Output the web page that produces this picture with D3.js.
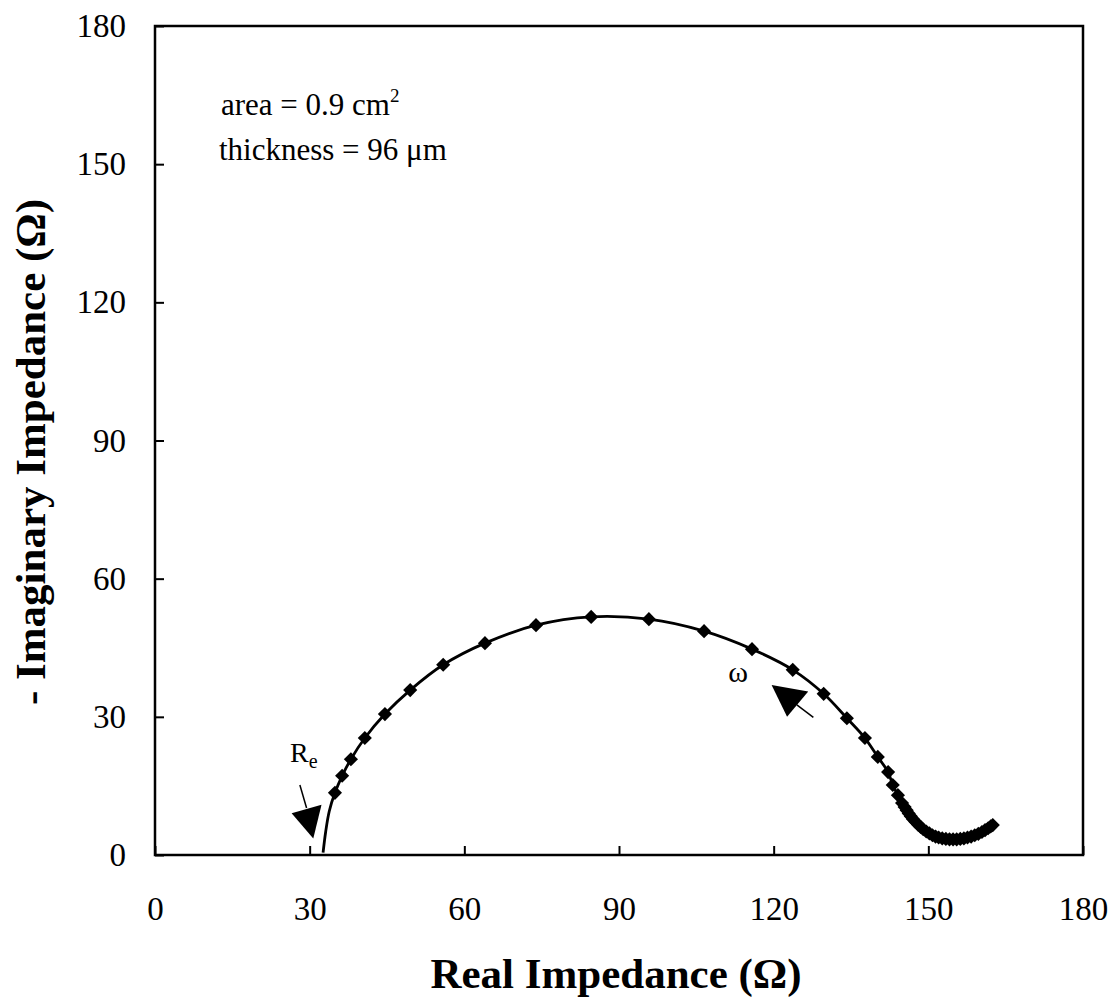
<!DOCTYPE html>
<html>
<head>
<meta charset="utf-8">
<script src="https://cdn.jsdelivr.net/npm/d3@7"></script>
<style>
  html, body { margin: 0; padding: 0; background: #fff; }
  text { font-family: "Liberation Serif", "Times New Roman", serif; fill: #000; }
</style>
</head>
<body>
<svg id="chart" width="1117" height="1005"></svg>
<script>
// ---- data ----
const xTicks = [0, 30, 60, 90, 120, 150, 180];
const yTicks = [0, 30, 60, 90, 120, 150, 180];
const realZ = [34.9, 36.3, 38.0, 40.7, 44.6, 49.5, 55.9, 64.0, 73.9, 84.6, 95.8, 106.5, 115.8, 123.7, 129.7, 134.2, 137.7, 140.2, 142.2, 143.1, 144.1, 144.9,
  145.4, 145.8, 146.2, 146.6, 147.0, 147.5, 148.0, 148.5, 149.0, 149.6, 150.2, 150.8, 151.4, 152.0, 152.7, 153.4, 154.1, 154.8, 155.5,
  156.2, 156.9, 157.6, 158.3, 159.0, 159.7, 160.4, 161.0, 161.6, 162.1, 162.5];
const imagZ = [13.5, 17.2, 20.8, 25.4, 30.6, 35.8, 41.3, 46.0, 49.9, 51.7, 51.2, 48.6, 44.7, 40.2, 35.0, 29.7, 25.4, 21.3, 18.0, 15.2, 13.0, 11.3,
  10.4, 9.7, 9.0, 8.4, 7.8, 7.2, 6.6, 6.1, 5.6, 5.1, 4.7, 4.3, 4.0, 3.8, 3.6, 3.5, 3.4, 3.4, 3.4,
  3.5, 3.6, 3.8, 4.0, 4.3, 4.6, 5.0, 5.4, 5.8, 6.2, 6.5];
// fitted line start (below first point, toward the axis)
const fitStartX = [32.6, 33.1, 33.8];
const fitStartY = [0.5, 5.0, 9.5];
const xTitle = "Real Impedance (Ω)";
const yTitle = "- Imaginary Impedance (Ω)";
const noteLines = ["area = 0.9 cm", "thickness = 96 μm"];

// ---- layout ----
const svg = d3.select("#chart");
const L = 155, R = 1083, T = 26, B = 855;
const x = d3.scaleLinear().domain([0, 180]).range([L, R]);
const y = d3.scaleLinear().domain([0, 180]).range([B, T]);

svg.append("rect").attr("width", 1117).attr("height", 1005).attr("fill", "#fff");

// ticks (inward)
const xAxis = d3.axisBottom(x).tickValues(xTicks).tickSize(-9).tickPadding(42).tickFormat(d3.format("d"));
const gx = svg.append("g").attr("transform", `translate(0,${B})`).call(xAxis);
gx.select(".domain").remove();
gx.selectAll("line").attr("stroke", "#000").attr("stroke-width", 2);
gx.selectAll("text").attr("font-size", 33).attr("font-family", "Liberation Serif, serif").attr("fill", "#000");

const yAxis = d3.axisLeft(y).tickValues(yTicks).tickSize(-9).tickPadding(29).tickFormat(d3.format("d"));
const gy = svg.append("g").attr("transform", `translate(${L},0)`).call(yAxis);
gy.select(".domain").remove();
gy.selectAll("line").attr("stroke", "#000").attr("stroke-width", 2);
gy.selectAll("text").attr("font-size", 33).attr("font-family", "Liberation Serif, serif").attr("fill", "#000");

// frame
svg.append("rect").attr("x", L).attr("y", T).attr("width", R - L).attr("height", B - T)
  .attr("fill", "none").attr("stroke", "#000").attr("stroke-width", 2.5);

// line
const linePts = fitStartX.map((v, i) => [v, fitStartY[i]]).concat(realZ.map((v, i) => [v, imagZ[i]]));
svg.append("path").datum(linePts)
  .attr("d", d3.line().x(d => x(d[0])).y(d => y(d[1])).curve(d3.curveCatmullRom))
  .attr("fill", "none").attr("stroke", "#000").attr("stroke-width", 2.8);

// markers (diamonds)
const sym = d3.symbol().type(d3.symbolSquare).size(100);
svg.append("g").selectAll("path").data(realZ.map((v, i) => [v, imagZ[i]])).join("path")
  .attr("d", sym)
  .attr("transform", d => `translate(${x(d[0])},${y(d[1])}) rotate(45)`)
  .attr("fill", "#000");

// arrows (annotations, in data units)
const arrowHeads = [
  [[26.5, 9.05], [32.3, 10.9], [30.7, 3.6]],
  [[119.6, 36.9], [126.7, 35.5], [122.6, 30.0]]
];
const arrowTails = [
  [[28.1, 15.2], [29.4, 10.2]],
  [[124.5, 32.6], [127.7, 29.9]]
];
svg.append("g").selectAll("path").data(arrowHeads).join("path")
  .attr("d", d => "M" + d.map(p => `${x(p[0])},${y(p[1])}`).join("L") + "Z")
  .attr("fill", "#000");
svg.append("g").selectAll("line").data(arrowTails).join("line")
  .attr("x1", d => x(d[0][0])).attr("y1", d => y(d[0][1]))
  .attr("x2", d => x(d[1][0])).attr("y2", d => y(d[1][1]))
  .attr("stroke", "#000").attr("stroke-width", 1.5);

// labels
const re = svg.append("text").attr("x", x(26.2)).attr("y", y(20.2)).attr("font-size", 28);
re.append("tspan").text("R");
re.append("tspan").attr("font-size", 20).attr("dy", 6).text("e");

svg.append("text").attr("x", x(113.1)).attr("y", y(37.6)).attr("text-anchor", "middle")
  .attr("font-size", 30).text("ω");

const n1 = svg.append("text").attr("x", x(12.8)).attr("y", y(160.7)).attr("font-size", 31);
n1.append("tspan").text(noteLines[0]);
n1.append("tspan").attr("font-size", 19).attr("dy", -13).text("2");
svg.append("text").attr("x", x(12.4)).attr("y", y(150.9)).attr("font-size", 31).text(noteLines[1]);

// axis titles
svg.append("text").attr("x", (L + R) / 2 - 3).attr("y", 988).attr("text-anchor", "middle")
  .attr("font-size", 43).attr("font-weight", "bold").text(xTitle);
svg.append("text").attr("transform", `translate(45,452) rotate(-90)`)
  .attr("text-anchor", "middle").attr("font-size", 43).attr("font-weight", "bold").text(yTitle);
</script>
</body>
</html>
